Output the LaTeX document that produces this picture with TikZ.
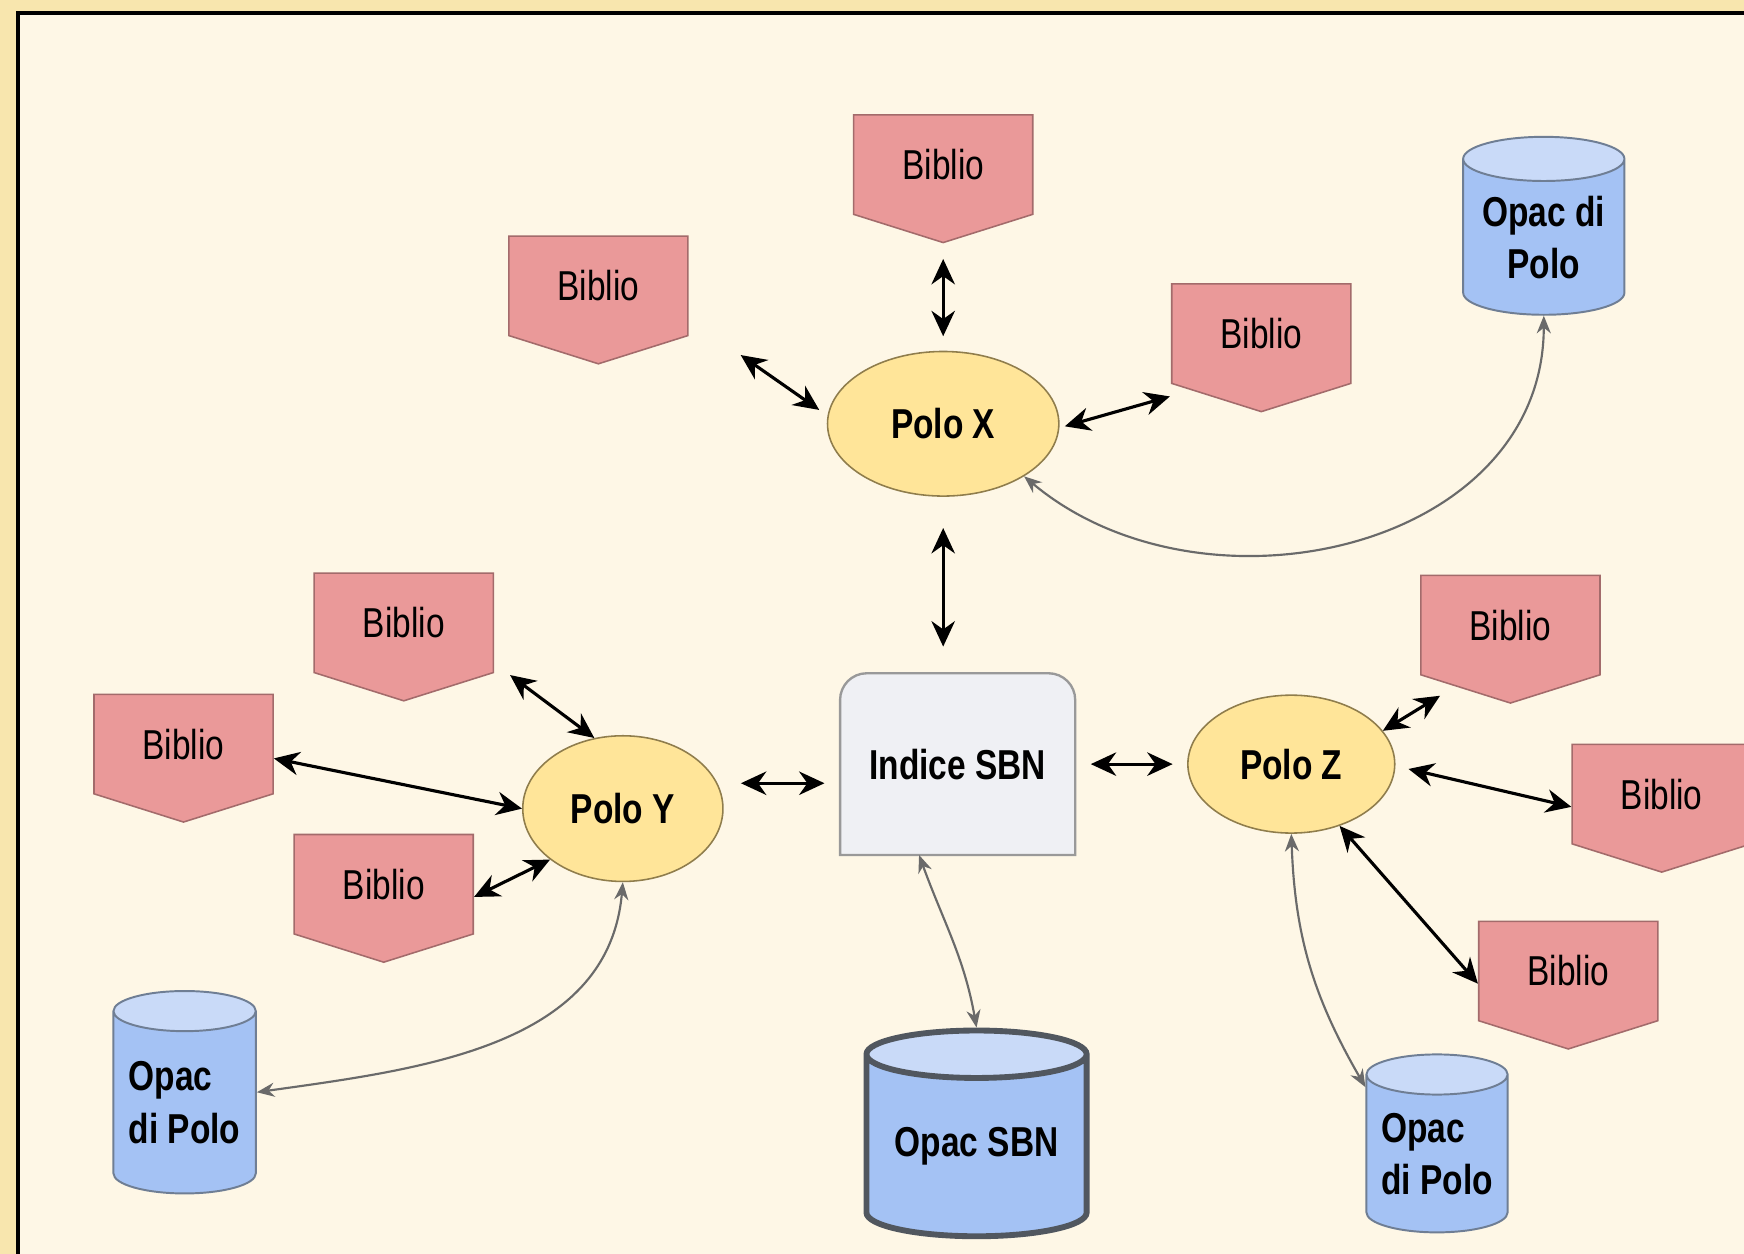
\documentclass[tikz,border=0pt]{standalone}
\usepackage{fontspec}
\setmainfont{Liberation Sans}[FakeStretch=0.8]
\usetikzlibrary{arrows.meta,shapes.geometric,shapes.symbols,backgrounds}

\definecolor{pagebg}{HTML}{F8E6AE}
\definecolor{sheetbg}{HTML}{FEF7E6}
\definecolor{bibliofill}{HTML}{EA9999}
\definecolor{biblioline}{HTML}{A36B6B}
\definecolor{polofill}{HTML}{FFE599}
\definecolor{pololine}{HTML}{8F7D4C}
\definecolor{indexfill}{HTML}{EFF0F4}
\definecolor{indexline}{HTML}{999999}
\definecolor{opacbody}{HTML}{A4C2F4}
\definecolor{opactop}{HTML}{C9DAF8}
\definecolor{opacline}{HTML}{6F7E94}
\definecolor{sbnline}{HTML}{51575F}
\definecolor{feedline}{HTML}{6A6A6A}

\newcommand{\labelfont}{\fontsize{10.7pt}{13.4pt}\selectfont}

\begin{document}
\begin{tikzpicture}[x=0.1mm,y=-0.1mm,>={Stealth[length=6.5pt,width=6pt]}]

  \tikzstyle{polo}=[ellipse,draw=pololine,fill=polofill,line width=0.4pt,
                    inner sep=0pt,font=\labelfont\bfseries]
  \tikzstyle{biblio}=[signal,signal to=south,signal pointer angle=145,
                      draw=biblioline,fill=bibliofill,line width=0.4pt,
                      minimum width=16.1mm,minimum height=10.1mm,inner sep=0pt,font=\labelfont]
  \tikzstyle{opac}=[cylinder,shape border rotate=90,aspect=0.36,draw=opacline,
                    line width=0.5pt,cylinder uses custom fill,cylinder body fill=opacbody,
                    cylinder end fill=opactop,inner sep=0pt,anchor=shape center,
                    font=\labelfont\bfseries]
  \tikzstyle{link}=[<->,line width=0.8pt]
  \tikzstyle{feed}=[{Stealth[length=4.5pt,width=3.6pt]}-{Stealth[length=4.5pt,width=3.6pt]},
                    draw=feedline,line width=0.55pt]

  \useasboundingbox (0,0) rectangle (1568,1127);

  % poli e indice
  \node [polo,minimum width=20.8mm,minimum height=13mm]   (px)  at (848,381)  {Polo X};
  \node [polo,minimum width=18mm,minimum height=13.1mm]   (py)  at (560,727)  {Polo Y};
  \node [polo,minimum width=18.6mm,minimum height=12.4mm] (pz)  at (1161,687) {Polo Z};
  \node [minimum width=21mm,minimum height=16.2mm,font=\labelfont\bfseries]
                                                          (idx) at (861,687)  {Indice SBN};

  % biblioteche
  \node [biblio] (bx1) at (848,148)  {Biblio};
  \node [biblio] (bx2) at (538,257)  {Biblio};
  \node [biblio] (bx3) at (1134,300) {Biblio};
  \node [biblio] (by1) at (363,560)  {Biblio};
  \node [biblio] (by2) at (165,669)  {Biblio};
  \node [biblio] (by3) at (345,795)  {Biblio};
  \node [biblio] (bz1) at (1358,562) {Biblio};
  \node [biblio] (bz2) at (1494,714) {Biblio};
  \node [biblio] (bz3) at (1410,873) {Biblio};

  % opac
  \node [opac,minimum width=14.5mm,minimum height=16mm,align=center] (ox) at (1388,203) {Opac di\\Polo};
  \node [opac,minimum width=12.8mm,minimum height=18.2mm,align=left] (oy) at (166,982)  {Opac\\di Polo};
  \node [opac,minimum width=12.7mm,minimum height=16mm,align=left]   (oz) at (1292,1028) {Opac\\di Polo};
  \node [opac,aspect=0.29,draw=sbnline,line width=1.5pt,minimum width=19.8mm,minimum height=18.5mm]
                                                                     (osbn) at (878,1019) {Opac SBN};

  % Polo X
  \draw [link,shorten <=1.3mm,shorten >=1.4mm] (px.north) -- (bx1.south);
  \draw [link,shorten <=0.9mm,shorten >=5.7mm] (px.176) -- (bx2.-20);
  \draw [link,shorten <=0.5mm,shorten >=2mm]   (px.-2) -- (bx3.219);
  \draw [link,shorten <=2.8mm,shorten >=2.4mm] (px.south) -- (px.south |- idx.north);
  % Polo Y
  \draw [link,shorten <=2.1mm,shorten >=1.4mm] (py.15) -- (py.15 -| idx.west);
  \draw [link,shorten >=1.8mm] (py.112) -- (by1.-24);
  \draw [link] (py.180) -- (by2.-9);
  \draw [link] (py.215) -- (by3.-8);
  % Polo Z
  \draw [link,shorten <=1.4mm,shorten >=1.3mm] (idx.east) -- (pz.west);
  \draw [link,shorten >=1.6mm] (pz.20) -- (bz1.228);
  \draw [link,shorten <=1.2mm] (pz.-1) -- (bz2.188);
  \draw [link] (pz.-52) -- (bz3.188);
  % opac
  \draw [feed] (ox.south) to [out=-90,in=-40,looseness=1.1] (px.-33);
  \draw [feed] (py.south) to [out=-95,in=8] (oy.east |- oy.shape center);
  \draw [feed] (idx.-113) to [out=-70,in=100] (osbn.north);
  \draw [feed] (pz.south) to [out=-88,in=120] (oz.137);

  \begin{pgfonlayer}{background}
    \fill [pagebg] (0,0) rectangle (1568,1127);
    \filldraw [fill=sheetbg,draw=black,line width=1pt] (16,12) rectangle (1620,1180);
    \filldraw [fill=indexfill,draw=indexline,line width=0.6pt]
      (idx.south west) [rounded corners=2.4mm] -- (idx.north west) -- (idx.north east)
      [sharp corners] -- (idx.south east) -- cycle;
  \end{pgfonlayer}
\end{tikzpicture}
\end{document}
